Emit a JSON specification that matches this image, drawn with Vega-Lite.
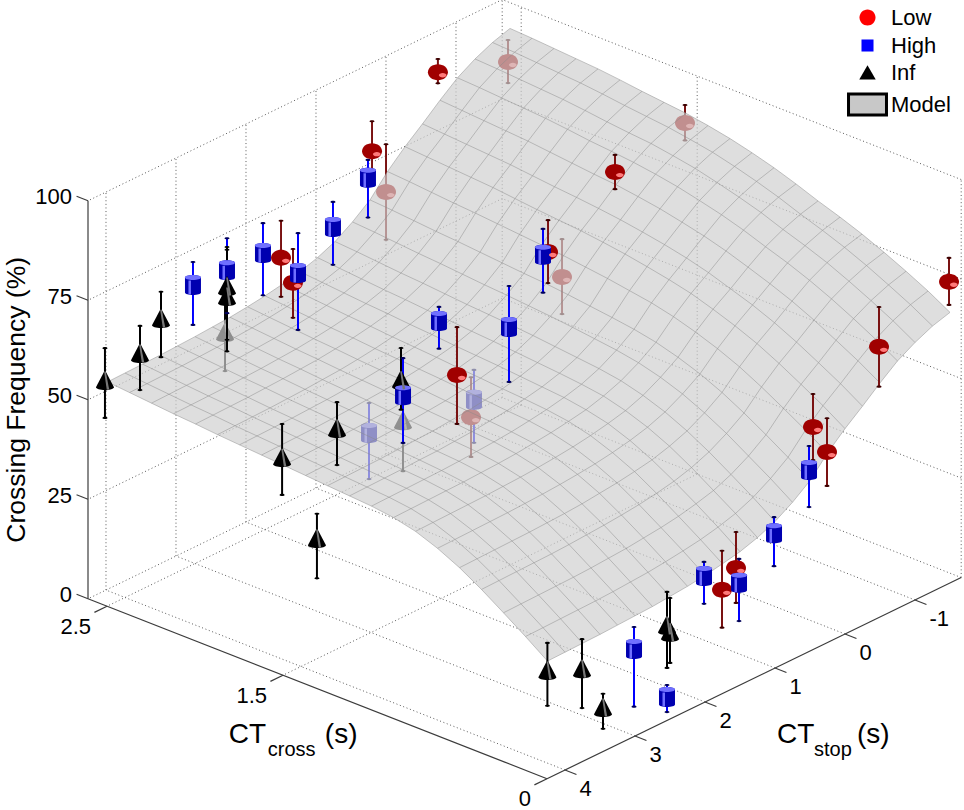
{
  "$schema": "https://vega.github.io/schema/vega-lite/v6.json",
  "width": 964,
  "height": 810,
  "padding": 0,
  "autosize": {"type": "none"},
  "background": "#ffffff",
  "config": {"view": {"stroke": null}, "font": "Liberation Sans"},
  "datasets": {
    "seg": [
      {"t":"d","c":1.5,"s":-1.66,"z":0,"c2":1.5,"s2":4.257,"z2":0},
      {"t":"d","c":2.5,"s":-1.66,"z":0,"c2":2.5,"s2":4.257,"z2":0},
      {"t":"d","c":2.608,"s":-1.66,"z":0,"c2":2.608,"s2":4.257,"z2":0},
      {"t":"d","c":0,"s":-1.66,"z":0,"c2":2.608,"s2":-1.66,"z2":0},
      {"t":"d","c":0,"s":-1,"z":0,"c2":2.608,"s2":-1,"z2":0},
      {"t":"d","c":0,"s":0,"z":0,"c2":2.608,"s2":0,"z2":0},
      {"t":"d","c":0,"s":1,"z":0,"c2":2.608,"s2":1,"z2":0},
      {"t":"d","c":0,"s":2,"z":0,"c2":2.608,"s2":2,"z2":0},
      {"t":"d","c":0,"s":3,"z":0,"c2":2.608,"s2":3,"z2":0},
      {"t":"d","c":0,"s":4,"z":0,"c2":2.608,"s2":4,"z2":0},
      {"t":"d","c":2.608,"s":-1.66,"z":0,"c2":2.608,"s2":-1.66,"z2":100},
      {"t":"d","c":2.608,"s":-1,"z":0,"c2":2.608,"s2":-1,"z2":100},
      {"t":"d","c":2.608,"s":0,"z":0,"c2":2.608,"s2":0,"z2":100},
      {"t":"d","c":2.608,"s":1,"z":0,"c2":2.608,"s2":1,"z2":100},
      {"t":"d","c":2.608,"s":2,"z":0,"c2":2.608,"s2":2,"z2":100},
      {"t":"d","c":2.608,"s":3,"z":0,"c2":2.608,"s2":3,"z2":100},
      {"t":"d","c":2.608,"s":4,"z":0,"c2":2.608,"s2":4,"z2":100},
      {"t":"d","c":2.608,"s":-1.66,"z":25,"c2":2.608,"s2":4.257,"z2":25},
      {"t":"d","c":2.608,"s":-1.66,"z":50,"c2":2.608,"s2":4.257,"z2":50},
      {"t":"d","c":2.608,"s":-1.66,"z":75,"c2":2.608,"s2":4.257,"z2":75},
      {"t":"d","c":2.608,"s":-1.66,"z":100,"c2":2.608,"s2":4.257,"z2":100},
      {"t":"d","c":0,"s":-1.66,"z":0,"c2":0,"s2":-1.66,"z2":100},
      {"t":"d","c":1.5,"s":-1.66,"z":0,"c2":1.5,"s2":-1.66,"z2":100},
      {"t":"d","c":2.5,"s":-1.66,"z":0,"c2":2.5,"s2":-1.66,"z2":100},
      {"t":"d","c":0,"s":-1.66,"z":25,"c2":2.608,"s2":-1.66,"z2":25},
      {"t":"d","c":0,"s":-1.66,"z":50,"c2":2.608,"s2":-1.66,"z2":50},
      {"t":"d","c":0,"s":-1.66,"z":75,"c2":2.608,"s2":-1.66,"z2":75},
      {"t":"d","c":0,"s":-1.66,"z":100,"c2":2.608,"s2":-1.66,"z2":100},
      {"t":"a","c":2.608,"s":4.257,"z":0,"c2":2.608,"s2":4.257,"z2":100},
      {"t":"a","c":2.608,"s":4.257,"z":0,"c2":0,"s2":4.257,"z2":0},
      {"t":"a","c":0,"s":4.257,"z":0,"c2":0,"s2":-1.66,"z2":0},
      {"t":"a","c":2.608,"s":4.257,"z":0,"c2":2.673,"s2":4.257,"z2":0},
      {"t":"a","c":2.608,"s":4.257,"z":25,"c2":2.673,"s2":4.257,"z2":25},
      {"t":"a","c":2.608,"s":4.257,"z":50,"c2":2.673,"s2":4.257,"z2":50},
      {"t":"a","c":2.608,"s":4.257,"z":75,"c2":2.673,"s2":4.257,"z2":75},
      {"t":"a","c":2.608,"s":4.257,"z":100,"c2":2.673,"s2":4.257,"z2":100},
      {"t":"a","c":0,"s":4.257,"z":0,"c2":0,"s2":4.437,"z2":0},
      {"t":"a","c":1.5,"s":4.257,"z":0,"c2":1.5,"s2":4.437,"z2":0},
      {"t":"a","c":2.5,"s":4.257,"z":0,"c2":2.5,"s2":4.437,"z2":0},
      {"t":"a","c":0,"s":-1,"z":0,"c2":-0.065,"s2":-1,"z2":0},
      {"t":"a","c":0,"s":0,"z":0,"c2":-0.065,"s2":0,"z2":0},
      {"t":"a","c":0,"s":1,"z":0,"c2":-0.065,"s2":1,"z2":0},
      {"t":"a","c":0,"s":2,"z":0,"c2":-0.065,"s2":2,"z2":0},
      {"t":"a","c":0,"s":3,"z":0,"c2":-0.065,"s2":3,"z2":0},
      {"t":"a","c":0,"s":4,"z":0,"c2":-0.065,"s2":4,"z2":0}
    ],
    "lab": [
      {"ax":"z","c":2.608,"s":4.257,"z":0,"lab":"0"},
      {"ax":"z","c":2.608,"s":4.257,"z":25,"lab":"25"},
      {"ax":"z","c":2.608,"s":4.257,"z":50,"lab":"50"},
      {"ax":"z","c":2.608,"s":4.257,"z":75,"lab":"75"},
      {"ax":"z","c":2.608,"s":4.257,"z":100,"lab":"100"},
      {"ax":"c","c":2.5,"s":4.257,"z":0,"lab":"2.5"},
      {"ax":"c","c":1.5,"s":4.257,"z":0,"lab":"1.5"},
      {"ax":"c","c":0,"s":4.257,"z":0,"lab":"0"},
      {"ax":"s","c":0,"s":4,"z":0,"lab":"4"},
      {"ax":"s","c":0,"s":3,"z":0,"lab":"3"},
      {"ax":"s","c":0,"s":2,"z":0,"lab":"2"},
      {"ax":"s","c":0,"s":1,"z":0,"lab":"1"},
      {"ax":"s","c":0,"s":0,"z":0,"lab":"0"},
      {"ax":"s","c":0,"s":-1,"z":0,"lab":"-1"},
      {"ax":"tz","c":2.608,"s":4.257,"z":50,"lab":"Crossing Frequency (%)"},
      {"ax":"tc","c":1.2,"s":4.257,"z":0,"lab":""},
      {"ax":"ts","c":0,"s":1.3,"z":0,"lab":""}
    ],
    "pts": [
      {"cond":"Low","u":false,"c":2.5,"s":-0.47,"z":93.8,"hi":97.1,"lo":91.0},
      {"cond":"Low","u":true,"c":2.4,"s":-1.22,"z":91.7,"hi":97.2,"lo":86.4},
      {"cond":"Low","u":true,"c":1.5,"s":-1.486,"z":89.7,"hi":94.2,"lo":85.3},
      {"cond":"Low","u":false,"c":1.5,"s":-0.486,"z":85.9,"hi":90.2,"lo":81.6},
      {"cond":"Low","u":false,"c":0,"s":-1.486,"z":75.8,"hi":81.8,"lo":70.0},
      {"cond":"Low","u":false,"c":0,"s":-0.486,"z":68.0,"hi":78.0,"lo":58.0},
      {"cond":"Low","u":false,"c":0,"s":0.457,"z":55.9,"hi":64.2,"lo":47.6},
      {"cond":"Low","u":false,"c":0,"s":0.257,"z":47.9,"hi":56.4,"lo":39.4},
      {"cond":"Low","u":false,"c":0,"s":1.757,"z":26.1,"hi":35.9,"lo":16.6},
      {"cond":"Low","u":false,"c":0,"s":1.557,"z":29.9,"hi":38.9,"lo":21.1},
      {"cond":"Low","u":false,"c":2.5,"s":0.471,"z":82.0,"hi":89.5,"lo":74.7},
      {"cond":"Low","u":true,"c":2.5,"s":0.271,"z":70.0,"hi":82.0,"lo":58.0},
      {"cond":"Low","u":false,"c":2.45,"s":1.726,"z":60.5,"hi":69.0,"lo":51.7},
      {"cond":"Low","u":false,"c":2.5,"s":1.771,"z":66.3,"hi":75.6,"lo":56.5},
      {"cond":"Low","u":false,"c":1.5,"s":0.471,"z":74.0,"hi":82.0,"lo":66.2},
      {"cond":"Low","u":true,"c":1.5,"s":0.271,"z":66.0,"hi":75.5,"lo":56.7},
      {"cond":"Low","u":false,"c":1.4,"s":2.023,"z":58.1,"hi":70.1,"lo":45.8},
      {"cond":"Low","u":true,"c":1.5,"s":1.571,"z":41.9,"hi":51.9,"lo":31.9},
      {"cond":"High","u":false,"c":2.5,"s":0.529,"z":75.8,"hi":80.3,"lo":65.8},
      {"cond":"High","u":false,"c":2.5,"s":1.029,"z":67.7,"hi":74.0,"lo":58.2},
      {"cond":"High","u":false,"c":2.4,"s":1.78,"z":64.3,"hi":74.3,"lo":50.0},
      {"cond":"High","u":false,"c":2.5,"s":2.029,"z":69.7,"hi":77.2,"lo":59.1},
      {"cond":"High","u":false,"c":2.5,"s":2.543,"z":69.8,"hi":77.8,"lo":59.0},
      {"cond":"High","u":false,"c":2.5,"s":3.029,"z":70.2,"hi":76.0,"lo":60.2},
      {"cond":"High","u":false,"c":1.5,"s":0.543,"z":73.9,"hi":80.4,"lo":64.4},
      {"cond":"High","u":false,"c":1.5,"s":2.029,"z":70.0,"hi":73.5,"lo":63.0},
      {"cond":"High","u":false,"c":1.4,"s":1.28,"z":63.8,"hi":74.1,"lo":50.0},
      {"cond":"High","u":true,"c":1.5,"s":1.529,"z":45.9,"hi":53.4,"lo":35.1},
      {"cond":"High","u":false,"c":1.4,"s":2.794,"z":59.6,"hi":68.9,"lo":47.6},
      {"cond":"High","u":true,"c":1.6,"s":2.777,"z":46.5,"hi":54.0,"lo":34.9},
      {"cond":"High","u":false,"c":0,"s":3.014,"z":22.0,"hi":27.5,"lo":7.5},
      {"cond":"High","u":false,"c":0,"s":2.543,"z":5.9,"hi":8.9,"lo":2.1},
      {"cond":"High","u":false,"c":0,"s":2.014,"z":31.8,"hi":35.3,"lo":24.8},
      {"cond":"High","u":false,"c":0,"s":1.514,"z":25.8,"hi":31.8,"lo":16.2},
      {"cond":"High","u":false,"c":0,"s":1.014,"z":34.0,"hi":38.0,"lo":25.7},
      {"cond":"High","u":false,"c":0,"s":0.514,"z":45.6,"hi":51.6,"lo":36.3},
      {"cond":"Inf","u":false,"c":2.52,"s":4.236,"z":56.3,"hi":64.3,"lo":46.8},
      {"cond":"Inf","u":false,"c":2.5,"s":3.786,"z":59.6,"hi":66.4,"lo":50.3},
      {"cond":"Inf","u":false,"c":2.5,"s":3.486,"z":65.8,"hi":72.4,"lo":56.0},
      {"cond":"Inf","u":false,"c":2.5,"s":2.543,"z":65.8,"hi":75.6,"lo":49.4},
      {"cond":"Inf","u":false,"c":2.5,"s":2.543,"z":63.3,"hi":74.9,"lo":52.3},
      {"cond":"Inf","u":true,"c":2.5,"s":2.571,"z":54.5,"hi":62.5,"lo":44.7},
      {"cond":"Inf","u":false,"c":1.4,"s":2.823,"z":63.7,"hi":71.7,"lo":56.2},
      {"cond":"Inf","u":true,"c":1.8,"s":1.789,"z":37.8,"hi":43.3,"lo":25.0},
      {"cond":"Inf","u":false,"c":1.4,"s":3.737,"z":59.4,"hi":65.9,"lo":50.1},
      {"cond":"Inf","u":false,"c":1.508,"s":4.25,"z":54.6,"hi":62.9,"lo":45.1},
      {"cond":"Inf","u":false,"c":1.31,"s":4.25,"z":37.7,"hi":43.8,"lo":27.6},
      {"cond":"Inf","u":false,"c":0.1,"s":4.0,"z":23.4,"hi":30.2,"lo":14.4},
      {"cond":"Inf","u":false,"c":0,"s":3.757,"z":23.5,"hi":30.8,"lo":13.5},
      {"cond":"Inf","u":false,"c":0,"s":3.457,"z":11.2,"hi":14.5,"lo":5.7},
      {"cond":"Inf","u":false,"c":0,"s":2.543,"z":24.0,"hi":32.3,"lo":13.2},
      {"cond":"Inf","u":false,"c":0,"s":2.5,"z":21.9,"hi":30.4,"lo":14.1}
    ],
    "surf": [
      {"c":0,"s":-1.5,"z":68},{"c":0.125,"s":-1.5,"z":71.2},{"c":0.25,"s":-1.5,"z":74},{"c":0.375,"s":-1.5,"z":76.6},{"c":0.5,"s":-1.5,"z":79},{"c":0.625,"s":-1.5,"z":81.1},{"c":0.75,"s":-1.5,"z":83},{"c":0.875,"s":-1.5,"z":85.1},{"c":1,"s":-1.5,"z":87},{"c":1.125,"s":-1.5,"z":88.6},{"c":1.25,"s":-1.5,"z":90},{"c":1.375,"s":-1.5,"z":91.1},{"c":1.5,"s":-1.5,"z":92},{"c":1.625,"s":-1.5,"z":92.6},{"c":1.75,"s":-1.5,"z":93.2},{"c":1.875,"s":-1.5,"z":93.9},{"c":2,"s":-1.5,"z":94.5},{"c":2.125,"s":-1.5,"z":94.9},{"c":2.25,"s":-1.5,"z":95.3},{"c":2.375,"s":-1.5,"z":95.7},{"c":2.5,"s":-1.5,"z":96},
      {"c":0,"s":-1.25,"z":66.7},{"c":0.125,"s":-1.25,"z":69.9},{"c":0.25,"s":-1.25,"z":72.7},{"c":0.375,"s":-1.25,"z":75.4},{"c":0.5,"s":-1.25,"z":77.8},{"c":0.625,"s":-1.25,"z":79.9},{"c":0.75,"s":-1.25,"z":81.8},{"c":0.875,"s":-1.25,"z":83.9},{"c":1,"s":-1.25,"z":85.7},{"c":1.125,"s":-1.25,"z":87.3},{"c":1.25,"s":-1.25,"z":88.7},{"c":1.375,"s":-1.25,"z":89.7},{"c":1.5,"s":-1.25,"z":90.6},{"c":1.625,"s":-1.25,"z":91.2},{"c":1.75,"s":-1.25,"z":91.8},{"c":1.875,"s":-1.25,"z":92.5},{"c":2,"s":-1.25,"z":93.1},{"c":2.125,"s":-1.25,"z":93.5},{"c":2.25,"s":-1.25,"z":93.9},{"c":2.375,"s":-1.25,"z":94.3},{"c":2.5,"s":-1.25,"z":94.6},
      {"c":0,"s":-1,"z":64.7},{"c":0.125,"s":-1,"z":68.0},{"c":0.25,"s":-1,"z":70.9},{"c":0.375,"s":-1,"z":73.6},{"c":0.5,"s":-1,"z":76.1},{"c":0.625,"s":-1,"z":78.2},{"c":0.75,"s":-1,"z":80.1},{"c":0.875,"s":-1,"z":82.2},{"c":1,"s":-1,"z":83.9},{"c":1.125,"s":-1,"z":85.4},{"c":1.25,"s":-1,"z":86.8},{"c":1.375,"s":-1,"z":87.8},{"c":1.5,"s":-1,"z":88.7},{"c":1.625,"s":-1,"z":89.2},{"c":1.75,"s":-1,"z":89.8},{"c":1.875,"s":-1,"z":90.5},{"c":2,"s":-1,"z":91.1},{"c":2.125,"s":-1,"z":91.5},{"c":2.25,"s":-1,"z":91.9},{"c":2.375,"s":-1,"z":92.3},{"c":2.5,"s":-1,"z":92.6},
      {"c":0,"s":-0.75,"z":62.2},{"c":0.125,"s":-0.75,"z":65.5},{"c":0.25,"s":-0.75,"z":68.5},{"c":0.375,"s":-0.75,"z":71.3},{"c":0.5,"s":-0.75,"z":73.8},{"c":0.625,"s":-0.75,"z":76.0},{"c":0.75,"s":-0.75,"z":77.9},{"c":0.875,"s":-0.75,"z":79.9},{"c":1,"s":-0.75,"z":81.6},{"c":1.125,"s":-0.75,"z":83.0},{"c":1.25,"s":-0.75,"z":84.3},{"c":1.375,"s":-0.75,"z":85.3},{"c":1.5,"s":-0.75,"z":86.1},{"c":1.625,"s":-0.75,"z":86.7},{"c":1.75,"s":-0.75,"z":87.2},{"c":1.875,"s":-0.75,"z":87.9},{"c":2,"s":-0.75,"z":88.5},{"c":2.125,"s":-0.75,"z":88.9},{"c":2.25,"s":-0.75,"z":89.3},{"c":2.375,"s":-0.75,"z":89.7},{"c":2.5,"s":-0.75,"z":90.0},
      {"c":0,"s":-0.5,"z":58.8},{"c":0.125,"s":-0.5,"z":62.2},{"c":0.25,"s":-0.5,"z":65.2},{"c":0.375,"s":-0.5,"z":68.1},{"c":0.5,"s":-0.5,"z":70.7},{"c":0.625,"s":-0.5,"z":72.9},{"c":0.75,"s":-0.5,"z":74.9},{"c":0.875,"s":-0.5,"z":76.8},{"c":1,"s":-0.5,"z":78.4},{"c":1.125,"s":-0.5,"z":79.7},{"c":1.25,"s":-0.5,"z":80.9},{"c":1.375,"s":-0.5,"z":81.8},{"c":1.5,"s":-0.5,"z":82.6},{"c":1.625,"s":-0.5,"z":83.1},{"c":1.75,"s":-0.5,"z":83.7},{"c":1.875,"s":-0.5,"z":84.3},{"c":2,"s":-0.5,"z":84.9},{"c":2.125,"s":-0.5,"z":85.3},{"c":2.25,"s":-0.5,"z":85.7},{"c":2.375,"s":-0.5,"z":86.1},{"c":2.5,"s":-0.5,"z":86.5},
      {"c":0,"s":-0.25,"z":55.1},{"c":0.125,"s":-0.25,"z":58.6},{"c":0.25,"s":-0.25,"z":61.7},{"c":0.375,"s":-0.25,"z":64.7},{"c":0.5,"s":-0.25,"z":67.4},{"c":0.625,"s":-0.25,"z":69.7},{"c":0.75,"s":-0.25,"z":71.6},{"c":0.875,"s":-0.25,"z":73.5},{"c":1,"s":-0.25,"z":75.0},{"c":1.125,"s":-0.25,"z":76.2},{"c":1.25,"s":-0.25,"z":77.2},{"c":1.375,"s":-0.25,"z":78.1},{"c":1.5,"s":-0.25,"z":78.8},{"c":1.625,"s":-0.25,"z":79.4},{"c":1.75,"s":-0.25,"z":79.9},{"c":1.875,"s":-0.25,"z":80.5},{"c":2,"s":-0.25,"z":81.1},{"c":2.125,"s":-0.25,"z":81.5},{"c":2.25,"s":-0.25,"z":81.9},{"c":2.375,"s":-0.25,"z":82.3},{"c":2.5,"s":-0.25,"z":82.7},
      {"c":0,"s":0,"z":51.6},{"c":0.125,"s":0,"z":55.2},{"c":0.25,"s":0,"z":58.4},{"c":0.375,"s":0,"z":61.5},{"c":0.5,"s":0,"z":64.3},{"c":0.625,"s":0,"z":66.6},{"c":0.75,"s":0,"z":68.6},{"c":0.875,"s":0,"z":70.4},{"c":1,"s":0,"z":71.7},{"c":1.125,"s":0,"z":72.8},{"c":1.25,"s":0,"z":73.8},{"c":1.375,"s":0,"z":74.6},{"c":1.5,"s":0,"z":75.3},{"c":1.625,"s":0,"z":75.8},{"c":1.75,"s":0,"z":76.3},{"c":1.875,"s":0,"z":76.9},{"c":2,"s":0,"z":77.5},{"c":2.125,"s":0,"z":77.9},{"c":2.25,"s":0,"z":78.3},{"c":2.375,"s":0,"z":78.7},{"c":2.5,"s":0,"z":79.1},
      {"c":0,"s":0.25,"z":47.6},{"c":0.125,"s":0.25,"z":51.2},{"c":0.25,"s":0.25,"z":54.5},{"c":0.375,"s":0.25,"z":57.7},{"c":0.5,"s":0.25,"z":60.6},{"c":0.625,"s":0.25,"z":63.0},{"c":0.75,"s":0.25,"z":65.0},{"c":0.875,"s":0.25,"z":66.7},{"c":1,"s":0.25,"z":68.0},{"c":1.125,"s":0.25,"z":68.9},{"c":1.25,"s":0.25,"z":69.8},{"c":1.375,"s":0.25,"z":70.5},{"c":1.5,"s":0.25,"z":71.2},{"c":1.625,"s":0.25,"z":71.7},{"c":1.75,"s":0.25,"z":72.2},{"c":1.875,"s":0.25,"z":72.7},{"c":2,"s":0.25,"z":73.2},{"c":2.125,"s":0.25,"z":73.6},{"c":2.25,"s":0.25,"z":74.1},{"c":2.375,"s":0.25,"z":74.6},{"c":2.5,"s":0.25,"z":75.0},
      {"c":0,"s":0.5,"z":42.8},{"c":0.125,"s":0.5,"z":46.5},{"c":0.25,"s":0.5,"z":50.0},{"c":0.375,"s":0.5,"z":53.3},{"c":0.5,"s":0.5,"z":56.3},{"c":0.625,"s":0.5,"z":58.8},{"c":0.75,"s":0.5,"z":60.8},{"c":0.875,"s":0.5,"z":62.4},{"c":1,"s":0.5,"z":63.5},{"c":1.125,"s":0.5,"z":64.3},{"c":1.25,"s":0.5,"z":65.0},{"c":1.375,"s":0.5,"z":65.7},{"c":1.5,"s":0.5,"z":66.3},{"c":1.625,"s":0.5,"z":66.7},{"c":1.75,"s":0.5,"z":67.2},{"c":1.875,"s":0.5,"z":67.7},{"c":2,"s":0.5,"z":68.2},{"c":2.125,"s":0.5,"z":68.6},{"c":2.25,"s":0.5,"z":69.1},{"c":2.375,"s":0.5,"z":69.6},{"c":2.5,"s":0.5,"z":70.0},
      {"c":0,"s":0.75,"z":39.5},{"c":0.125,"s":0.75,"z":43.3},{"c":0.25,"s":0.75,"z":46.8},{"c":0.375,"s":0.75,"z":50.3},{"c":0.5,"s":0.75,"z":53.3},{"c":0.625,"s":0.75,"z":55.9},{"c":0.75,"s":0.75,"z":57.9},{"c":0.875,"s":0.75,"z":59.4},{"c":1,"s":0.75,"z":60.4},{"c":1.125,"s":0.75,"z":61.1},{"c":1.25,"s":0.75,"z":61.8},{"c":1.375,"s":0.75,"z":62.4},{"c":1.5,"s":0.75,"z":62.9},{"c":1.625,"s":0.75,"z":63.4},{"c":1.75,"s":0.75,"z":63.8},{"c":1.875,"s":0.75,"z":64.3},{"c":2,"s":0.75,"z":64.8},{"c":2.125,"s":0.75,"z":65.2},{"c":2.25,"s":0.75,"z":65.7},{"c":2.375,"s":0.75,"z":66.2},{"c":2.5,"s":0.75,"z":66.6},
      {"c":0,"s":1,"z":36.8},{"c":0.125,"s":1,"z":40.7},{"c":0.25,"s":1,"z":44.3},{"c":0.375,"s":1,"z":47.8},{"c":0.5,"s":1,"z":50.9},{"c":0.625,"s":1,"z":53.5},{"c":0.75,"s":1,"z":55.5},{"c":0.875,"s":1,"z":57.0},{"c":1,"s":1,"z":57.9},{"c":1.125,"s":1,"z":58.5},{"c":1.25,"s":1,"z":59.1},{"c":1.375,"s":1,"z":59.7},{"c":1.5,"s":1,"z":60.2},{"c":1.625,"s":1,"z":60.6},{"c":1.75,"s":1,"z":61.0},{"c":1.875,"s":1,"z":61.5},{"c":2,"s":1,"z":62.0},{"c":2.125,"s":1,"z":62.4},{"c":2.25,"s":1,"z":62.9},{"c":2.375,"s":1,"z":63.4},{"c":2.5,"s":1,"z":63.8},
      {"c":0,"s":1.25,"z":34.9},{"c":0.125,"s":1.25,"z":38.8},{"c":0.25,"s":1.25,"z":42.4},{"c":0.375,"s":1.25,"z":46.0},{"c":0.5,"s":1.25,"z":49.2},{"c":0.625,"s":1.25,"z":51.8},{"c":0.75,"s":1.25,"z":53.8},{"c":0.875,"s":1.25,"z":55.3},{"c":1,"s":1.25,"z":56.1},{"c":1.125,"s":1.25,"z":56.7},{"c":1.25,"s":1.25,"z":57.2},{"c":1.375,"s":1.25,"z":57.7},{"c":1.5,"s":1.25,"z":58.2},{"c":1.625,"s":1.25,"z":58.6},{"c":1.75,"s":1.25,"z":59.1},{"c":1.875,"s":1.25,"z":59.5},{"c":2,"s":1.25,"z":60.0},{"c":2.125,"s":1.25,"z":60.4},{"c":2.25,"s":1.25,"z":60.9},{"c":2.375,"s":1.25,"z":61.4},{"c":2.5,"s":1.25,"z":61.9},
      {"c":0,"s":1.5,"z":33.5},{"c":0.125,"s":1.5,"z":37.5},{"c":0.25,"s":1.5,"z":41.2},{"c":0.375,"s":1.5,"z":44.7},{"c":0.5,"s":1.5,"z":47.9},{"c":0.625,"s":1.5,"z":50.6},{"c":0.75,"s":1.5,"z":52.7},{"c":0.875,"s":1.5,"z":54.0},{"c":1,"s":1.5,"z":54.9},{"c":1.125,"s":1.5,"z":55.4},{"c":1.25,"s":1.5,"z":55.9},{"c":1.375,"s":1.5,"z":56.4},{"c":1.5,"s":1.5,"z":56.8},{"c":1.625,"s":1.5,"z":57.2},{"c":1.75,"s":1.5,"z":57.7},{"c":1.875,"s":1.5,"z":58.1},{"c":2,"s":1.5,"z":58.6},{"c":2.125,"s":1.5,"z":59.0},{"c":2.25,"s":1.5,"z":59.5},{"c":2.375,"s":1.5,"z":60.0},{"c":2.5,"s":1.5,"z":60.5},
      {"c":0,"s":1.75,"z":32.6},{"c":0.125,"s":1.75,"z":36.5},{"c":0.25,"s":1.75,"z":40.2},{"c":0.375,"s":1.75,"z":43.8},{"c":0.5,"s":1.75,"z":47.1},{"c":0.625,"s":1.75,"z":49.7},{"c":0.75,"s":1.75,"z":51.8},{"c":0.875,"s":1.75,"z":53.2},{"c":1,"s":1.75,"z":54.0},{"c":1.125,"s":1.75,"z":54.5},{"c":1.25,"s":1.75,"z":54.9},{"c":1.375,"s":1.75,"z":55.4},{"c":1.5,"s":1.75,"z":55.8},{"c":1.625,"s":1.75,"z":56.3},{"c":1.75,"s":1.75,"z":56.7},{"c":1.875,"s":1.75,"z":57.1},{"c":2,"s":1.75,"z":57.6},{"c":2.125,"s":1.75,"z":58.0},{"c":2.25,"s":1.75,"z":58.5},{"c":2.375,"s":1.75,"z":59.0},{"c":2.5,"s":1.75,"z":59.5},
      {"c":0,"s":2,"z":31.8},{"c":0.125,"s":2,"z":35.8},{"c":0.25,"s":2,"z":39.5},{"c":0.375,"s":2,"z":43.1},{"c":0.5,"s":2,"z":46.4},{"c":0.625,"s":2,"z":49.0},{"c":0.75,"s":2,"z":51.1},{"c":0.875,"s":2,"z":52.5},{"c":1,"s":2,"z":53.3},{"c":1.125,"s":2,"z":53.7},{"c":1.25,"s":2,"z":54.2},{"c":1.375,"s":2,"z":54.6},{"c":1.5,"s":2,"z":55.1},{"c":1.625,"s":2,"z":55.5},{"c":1.75,"s":2,"z":55.9},{"c":1.875,"s":2,"z":56.3},{"c":2,"s":2,"z":56.8},{"c":2.125,"s":2,"z":57.2},{"c":2.25,"s":2,"z":57.7},{"c":2.375,"s":2,"z":58.2},{"c":2.5,"s":2,"z":58.7},
      {"c":0,"s":2.25,"z":31.2},{"c":0.125,"s":2.25,"z":35.2},{"c":0.25,"s":2.25,"z":39.0},{"c":0.375,"s":2.25,"z":42.6},{"c":0.5,"s":2.25,"z":45.9},{"c":0.625,"s":2.25,"z":48.5},{"c":0.75,"s":2.25,"z":50.6},{"c":0.875,"s":2.25,"z":52.0},{"c":1,"s":2.25,"z":52.7},{"c":1.125,"s":2.25,"z":53.2},{"c":1.25,"s":2.25,"z":53.6},{"c":1.375,"s":2.25,"z":54.0},{"c":1.5,"s":2.25,"z":54.5},{"c":1.625,"s":2.25,"z":54.9},{"c":1.75,"s":2.25,"z":55.3},{"c":1.875,"s":2.25,"z":55.7},{"c":2,"s":2.25,"z":56.2},{"c":2.125,"s":2.25,"z":56.6},{"c":2.25,"s":2.25,"z":57.1},{"c":2.375,"s":2.25,"z":57.6},{"c":2.5,"s":2.25,"z":58.1},
      {"c":0,"s":2.5,"z":30.8},{"c":0.125,"s":2.5,"z":34.7},{"c":0.25,"s":2.5,"z":38.5},{"c":0.375,"s":2.5,"z":42.2},{"c":0.5,"s":2.5,"z":45.4},{"c":0.625,"s":2.5,"z":48.1},{"c":0.75,"s":2.5,"z":50.2},{"c":0.875,"s":2.5,"z":51.5},{"c":1,"s":2.5,"z":52.3},{"c":1.125,"s":2.5,"z":52.7},{"c":1.25,"s":2.5,"z":53.2},{"c":1.375,"s":2.5,"z":53.6},{"c":1.5,"s":2.5,"z":54.0},{"c":1.625,"s":2.5,"z":54.4},{"c":1.75,"s":2.5,"z":54.8},{"c":1.875,"s":2.5,"z":55.2},{"c":2,"s":2.5,"z":55.7},{"c":2.125,"s":2.5,"z":56.1},{"c":2.25,"s":2.5,"z":56.6},{"c":2.375,"s":2.5,"z":57.1},{"c":2.5,"s":2.5,"z":57.6},
      {"c":0,"s":2.75,"z":30.4},{"c":0.125,"s":2.75,"z":34.4},{"c":0.25,"s":2.75,"z":38.2},{"c":0.375,"s":2.75,"z":41.9},{"c":0.5,"s":2.75,"z":45.1},{"c":0.625,"s":2.75,"z":47.8},{"c":0.75,"s":2.75,"z":49.9},{"c":0.875,"s":2.75,"z":51.2},{"c":1,"s":2.75,"z":52.0},{"c":1.125,"s":2.75,"z":52.4},{"c":1.25,"s":2.75,"z":52.8},{"c":1.375,"s":2.75,"z":53.2},{"c":1.5,"s":2.75,"z":53.6},{"c":1.625,"s":2.75,"z":54.1},{"c":1.75,"s":2.75,"z":54.5},{"c":1.875,"s":2.75,"z":54.9},{"c":2,"s":2.75,"z":55.4},{"c":2.125,"s":2.75,"z":55.8},{"c":2.25,"s":2.75,"z":56.3},{"c":2.375,"s":2.75,"z":56.8},{"c":2.5,"s":2.75,"z":57.3},
      {"c":0,"s":3,"z":30.2},{"c":0.125,"s":3,"z":34.1},{"c":0.25,"s":3,"z":37.9},{"c":0.375,"s":3,"z":41.6},{"c":0.5,"s":3,"z":44.9},{"c":0.625,"s":3,"z":47.6},{"c":0.75,"s":3,"z":49.7},{"c":0.875,"s":3,"z":51.0},{"c":1,"s":3,"z":51.7},{"c":1.125,"s":3,"z":52.1},{"c":1.25,"s":3,"z":52.6},{"c":1.375,"s":3,"z":53.0},{"c":1.5,"s":3,"z":53.4},{"c":1.625,"s":3,"z":53.8},{"c":1.75,"s":3,"z":54.2},{"c":1.875,"s":3,"z":54.6},{"c":2,"s":3,"z":55.1},{"c":2.125,"s":3,"z":55.5},{"c":2.25,"s":3,"z":56.0},{"c":2.375,"s":3,"z":56.5},{"c":2.5,"s":3,"z":57.0},
      {"c":0,"s":3.25,"z":30.0},{"c":0.125,"s":3.25,"z":33.9},{"c":0.25,"s":3.25,"z":37.7},{"c":0.375,"s":3.25,"z":41.4},{"c":0.5,"s":3.25,"z":44.7},{"c":0.625,"s":3.25,"z":47.4},{"c":0.75,"s":3.25,"z":49.5},{"c":0.875,"s":3.25,"z":50.8},{"c":1,"s":3.25,"z":51.5},{"c":1.125,"s":3.25,"z":52.0},{"c":1.25,"s":3.25,"z":52.4},{"c":1.375,"s":3.25,"z":52.8},{"c":1.5,"s":3.25,"z":53.2},{"c":1.625,"s":3.25,"z":53.6},{"c":1.75,"s":3.25,"z":54.0},{"c":1.875,"s":3.25,"z":54.4},{"c":2,"s":3.25,"z":54.9},{"c":2.125,"s":3.25,"z":55.3},{"c":2.25,"s":3.25,"z":55.8},{"c":2.375,"s":3.25,"z":56.3},{"c":2.5,"s":3.25,"z":56.8},
      {"c":0,"s":3.5,"z":29.8},{"c":0.125,"s":3.5,"z":33.8},{"c":0.25,"s":3.5,"z":37.6},{"c":0.375,"s":3.5,"z":41.3},{"c":0.5,"s":3.5,"z":44.6},{"c":0.625,"s":3.5,"z":47.3},{"c":0.75,"s":3.5,"z":49.4},{"c":0.875,"s":3.5,"z":50.7},{"c":1,"s":3.5,"z":51.4},{"c":1.125,"s":3.5,"z":51.8},{"c":1.25,"s":3.5,"z":52.2},{"c":1.375,"s":3.5,"z":52.6},{"c":1.5,"s":3.5,"z":53.0},{"c":1.625,"s":3.5,"z":53.4},{"c":1.75,"s":3.5,"z":53.8},{"c":1.875,"s":3.5,"z":54.2},{"c":2,"s":3.5,"z":54.7},{"c":2.125,"s":3.5,"z":55.1},{"c":2.25,"s":3.5,"z":55.6},{"c":2.375,"s":3.5,"z":56.1},{"c":2.5,"s":3.5,"z":56.6},
      {"c":0,"s":3.75,"z":29.7},{"c":0.125,"s":3.75,"z":33.7},{"c":0.25,"s":3.75,"z":37.5},{"c":0.375,"s":3.75,"z":41.2},{"c":0.5,"s":3.75,"z":44.5},{"c":0.625,"s":3.75,"z":47.2},{"c":0.75,"s":3.75,"z":49.3},{"c":0.875,"s":3.75,"z":50.6},{"c":1,"s":3.75,"z":51.3},{"c":1.125,"s":3.75,"z":51.7},{"c":1.25,"s":3.75,"z":52.1},{"c":1.375,"s":3.75,"z":52.5},{"c":1.5,"s":3.75,"z":52.9},{"c":1.625,"s":3.75,"z":53.3},{"c":1.75,"s":3.75,"z":53.7},{"c":1.875,"s":3.75,"z":54.1},{"c":2,"s":3.75,"z":54.6},{"c":2.125,"s":3.75,"z":55.0},{"c":2.25,"s":3.75,"z":55.5},{"c":2.375,"s":3.75,"z":56.0},{"c":2.5,"s":3.75,"z":56.5},
      {"c":0,"s":4,"z":29.6},{"c":0.125,"s":4,"z":33.6},{"c":0.25,"s":4,"z":37.4},{"c":0.375,"s":4,"z":41.1},{"c":0.5,"s":4,"z":44.4},{"c":0.625,"s":4,"z":47.1},{"c":0.75,"s":4,"z":49.2},{"c":0.875,"s":4,"z":50.5},{"c":1,"s":4,"z":51.2},{"c":1.125,"s":4,"z":51.6},{"c":1.25,"s":4,"z":52.0},{"c":1.375,"s":4,"z":52.4},{"c":1.5,"s":4,"z":52.8},{"c":1.625,"s":4,"z":53.2},{"c":1.75,"s":4,"z":53.6},{"c":1.875,"s":4,"z":54.0},{"c":2,"s":4,"z":54.5},{"c":2.125,"s":4,"z":54.9},{"c":2.25,"s":4,"z":55.4},{"c":2.375,"s":4,"z":55.9},{"c":2.5,"s":4,"z":56.4},
      {"c":0,"s":4.25,"z":29.5},{"c":0.125,"s":4.25,"z":33.5},{"c":0.25,"s":4.25,"z":37.3},{"c":0.375,"s":4.25,"z":41.0},{"c":0.5,"s":4.25,"z":44.3},{"c":0.625,"s":4.25,"z":47.0},{"c":0.75,"s":4.25,"z":49.1},{"c":0.875,"s":4.25,"z":50.4},{"c":1,"s":4.25,"z":51.1},{"c":1.125,"s":4.25,"z":51.5},{"c":1.25,"s":4.25,"z":51.9},{"c":1.375,"s":4.25,"z":52.3},{"c":1.5,"s":4.25,"z":52.7},{"c":1.625,"s":4.25,"z":53.1},{"c":1.75,"s":4.25,"z":53.5},{"c":1.875,"s":4.25,"z":53.9},{"c":2,"s":4.25,"z":54.4},{"c":2.125,"s":4.25,"z":54.8},{"c":2.25,"s":4.25,"z":55.3},{"c":2.375,"s":4.25,"z":55.8},{"c":2.5,"s":4.25,"z":56.3}
    ]
  },
  "encoding": {
    "x": {"field": "px", "type": "quantitative", "scale": {"domain": [0, 964], "nice": false, "zero": false}, "axis": null},
    "y": {"field": "py", "type": "quantitative", "scale": {"domain": [0, 810], "nice": false, "zero": false, "reverse": true}, "axis": null}
  },
  "layer": [
    {
      "data": {"name": "seg"},
      "transform": [
        {"filter": "datum.t === 'd'"},
        {"calculate": "845 - 176*datum.c - 70*datum.s", "as": "px"},
        {"calculate": "634 - 69*datum.c + 34*datum.s - 3.98*datum.z", "as": "py"},
        {"calculate": "845 - 176*datum.c2 - 70*datum.s2", "as": "px2"},
        {"calculate": "634 - 69*datum.c2 + 34*datum.s2 - 3.98*datum.z2", "as": "py2"}
      ],
      "mark": {"type": "rule", "color": "#5a5a5a", "strokeWidth": 1, "strokeDash": [1, 2.6]},
      "encoding": {"x2": {"field": "px2"}, "y2": {"field": "py2"}}
    },
    {
      "data": {"name": "pts"},
      "transform": [
        {"filter": "datum.u"},
        {"calculate": "845 - 176*datum.c - 70*datum.s", "as": "px"},
        {"calculate": "634 - 69*datum.c + 34*datum.s - 3.98*datum.hi", "as": "py"},
        {"calculate": "634 - 69*datum.c + 34*datum.s - 3.98*datum.lo", "as": "py2"}
      ],
      "mark": {"type": "rule", "strokeWidth": 2},
      "encoding": {
        "y2": {"field": "py2"},
        "color": {"condition": [{"test": "datum.cond === 'Low'", "value": "#7a1212"}, {"test": "datum.cond === 'High'", "value": "#0000ff"}], "value": "#000000"}
      }
    },
    {
      "data": {"name": "pts"},
      "transform": [
        {"filter": "datum.u"},
        {"fold": ["hi", "lo"], "as": ["end", "zz"]},
        {"calculate": "845 - 176*datum.c - 70*datum.s", "as": "px"},
        {"calculate": "634 - 69*datum.c + 34*datum.s - 3.98*datum.zz", "as": "py"}
      ],
      "mark": {"type": "point", "filled": true, "opacity": 1, "size": 25, "shape": "M-1,0A1,0.45 0 1 1 1,0A1,0.45 0 1 1 -1,0Z"},
      "encoding": {
        "color": {"condition": [{"test": "datum.cond === 'Low'", "value": "#3d0000"}, {"test": "datum.cond === 'High'", "value": "#00005a"}], "value": "#000000"}
      }
    },
    {
      "data": {"name": "pts"},
      "transform": [
        {"filter": "datum.u"},
        {"calculate": "845 - 176*datum.c - 70*datum.s", "as": "px"},
        {"calculate": "634 - 69*datum.c + 34*datum.s - 3.98*datum.z", "as": "py"}
      ],
      "mark": {"type": "point", "filled": true, "opacity": 1, "size": 400},
      "encoding": {
        "shape": {"condition": [{"test": "datum.cond === 'Low'", "value": "M-1,0A1,0.8 0 1 1 1,0A1,0.8 0 1 1 -1,0Z"}, {"test": "datum.cond === 'High'", "value": "M-0.8,-0.75A0.8,0.25 0 0 1 0.8,-0.75L0.8,0.75A0.8,0.25 0 0 1 -0.8,0.75Z"}], "value": "M0,-1L0.9,0.72A0.9,0.28 0 0 1 -0.9,0.72Z"},
        "color": {"condition": [{"test": "datum.cond === 'Low'", "value": "#a00000"}, {"test": "datum.cond === 'High'", "value": "#0000b0"}], "value": "#000000"}
      }
    },
    {
      "data": {"name": "pts"},
      "transform": [
        {"filter": "datum.u"},
        {"calculate": "845 - 176*datum.c - 70*datum.s", "as": "px"},
        {"calculate": "634 - 69*datum.c + 34*datum.s - 3.98*datum.z", "as": "py"}
      ],
      "mark": {"type": "point", "filled": true, "opacity": 1, "size": 400},
      "encoding": {
        "shape": {"condition": [{"test": "datum.cond === 'Low'", "value": "M0.1,0.3A0.38,0.22 0 1 1 0.86,0.3A0.38,0.22 0 1 1 0.1,0.3Z"}, {"test": "datum.cond === 'High'", "value": "M-0.8,-0.75A0.8,0.25 0 1 1 0.8,-0.75A0.8,0.25 0 1 1 -0.8,-0.75ZM-0.45,-0.45L-0.2,-0.45L-0.2,0.95L-0.45,0.95Z"}], "value": "M-0.08,-0.85L0.08,-0.85L0.42,0.92L0.18,0.96Z"},
        "color": {"condition": [{"test": "datum.cond === 'Low'", "value": "#ff7a7a"}, {"test": "datum.cond === 'High'", "value": "#7070ff"}], "value": "#777777"}
      }
    },
    {
      "data": {"name": "surf"},
      "transform": [
        {"filter": "datum.c == 0 || datum.c == 2.5 || datum.s == -1.5 || datum.s == 4.25"},
        {"calculate": "datum.s == 4.25 ? datum.c : datum.c == 2.5 ? 6.75 - datum.s : datum.s == -1.5 ? 10.75 - datum.c : 12.25 + datum.s", "as": "k"},
        {"calculate": "845 - 176*datum.c - 70*datum.s", "as": "px"},
        {"calculate": "634 - 69*datum.c + 34*datum.s - 3.98*datum.z", "as": "py"}
      ],
      "mark": {"type": "line", "fill": "#cfcfcf", "fillOpacity": 0.69, "strokeOpacity": 0, "interpolate": "linear-closed"},
      "encoding": {"order": {"field": "k", "type": "quantitative"}}
    },
    {
      "data": {"name": "surf"},
      "transform": [
        {"calculate": "845 - 176*datum.c - 70*datum.s", "as": "px"},
        {"calculate": "634 - 69*datum.c + 34*datum.s - 3.98*datum.z", "as": "py"}
      ],
      "mark": {"type": "line", "color": "#8a8a8a", "strokeWidth": 0.8, "opacity": 0.6},
      "encoding": {"detail": {"field": "c", "type": "nominal"}, "order": {"field": "s", "type": "quantitative"}}
    },
    {
      "data": {"name": "surf"},
      "transform": [
        {"calculate": "845 - 176*datum.c - 70*datum.s", "as": "px"},
        {"calculate": "634 - 69*datum.c + 34*datum.s - 3.98*datum.z", "as": "py"}
      ],
      "mark": {"type": "line", "color": "#8a8a8a", "strokeWidth": 0.8, "opacity": 0.6},
      "encoding": {"detail": {"field": "s", "type": "nominal"}, "order": {"field": "c", "type": "quantitative"}}
    },
    {
      "data": {"name": "pts"},
      "transform": [
        {"filter": "!datum.u"},
        {"calculate": "845 - 176*datum.c - 70*datum.s", "as": "px"},
        {"calculate": "634 - 69*datum.c + 34*datum.s - 3.98*datum.hi", "as": "py"},
        {"calculate": "634 - 69*datum.c + 34*datum.s - 3.98*datum.lo", "as": "py2"}
      ],
      "mark": {"type": "rule", "strokeWidth": 2},
      "encoding": {
        "y2": {"field": "py2"},
        "color": {"condition": [{"test": "datum.cond === 'Low'", "value": "#7a1212"}, {"test": "datum.cond === 'High'", "value": "#0000ff"}], "value": "#000000"}
      }
    },
    {
      "data": {"name": "pts"},
      "transform": [
        {"filter": "!datum.u"},
        {"fold": ["hi", "lo"], "as": ["end", "zz"]},
        {"calculate": "845 - 176*datum.c - 70*datum.s", "as": "px"},
        {"calculate": "634 - 69*datum.c + 34*datum.s - 3.98*datum.zz", "as": "py"}
      ],
      "mark": {"type": "point", "filled": true, "opacity": 1, "size": 25, "shape": "M-1,0A1,0.45 0 1 1 1,0A1,0.45 0 1 1 -1,0Z"},
      "encoding": {
        "color": {"condition": [{"test": "datum.cond === 'Low'", "value": "#3d0000"}, {"test": "datum.cond === 'High'", "value": "#00005a"}], "value": "#000000"}
      }
    },
    {
      "data": {"name": "pts"},
      "transform": [
        {"filter": "!datum.u"},
        {"calculate": "845 - 176*datum.c - 70*datum.s", "as": "px"},
        {"calculate": "634 - 69*datum.c + 34*datum.s - 3.98*datum.z", "as": "py"}
      ],
      "mark": {"type": "point", "filled": true, "opacity": 1, "size": 400},
      "encoding": {
        "shape": {"condition": [{"test": "datum.cond === 'Low'", "value": "M-1,0A1,0.8 0 1 1 1,0A1,0.8 0 1 1 -1,0Z"}, {"test": "datum.cond === 'High'", "value": "M-0.8,-0.75A0.8,0.25 0 0 1 0.8,-0.75L0.8,0.75A0.8,0.25 0 0 1 -0.8,0.75Z"}], "value": "M0,-1L0.9,0.72A0.9,0.28 0 0 1 -0.9,0.72Z"},
        "color": {"condition": [{"test": "datum.cond === 'Low'", "value": "#a00000"}, {"test": "datum.cond === 'High'", "value": "#0000b0"}], "value": "#000000"}
      }
    },
    {
      "data": {"name": "pts"},
      "transform": [
        {"filter": "!datum.u"},
        {"calculate": "845 - 176*datum.c - 70*datum.s", "as": "px"},
        {"calculate": "634 - 69*datum.c + 34*datum.s - 3.98*datum.z", "as": "py"}
      ],
      "mark": {"type": "point", "filled": true, "opacity": 1, "size": 400},
      "encoding": {
        "shape": {"condition": [{"test": "datum.cond === 'Low'", "value": "M0.1,0.3A0.38,0.22 0 1 1 0.86,0.3A0.38,0.22 0 1 1 0.1,0.3Z"}, {"test": "datum.cond === 'High'", "value": "M-0.8,-0.75A0.8,0.25 0 1 1 0.8,-0.75A0.8,0.25 0 1 1 -0.8,-0.75ZM-0.45,-0.45L-0.2,-0.45L-0.2,0.95L-0.45,0.95Z"}], "value": "M-0.08,-0.85L0.08,-0.85L0.42,0.92L0.18,0.96Z"},
        "color": {"condition": [{"test": "datum.cond === 'Low'", "value": "#ff7a7a"}, {"test": "datum.cond === 'High'", "value": "#7070ff"}], "value": "#777777"}
      }
    },
    {
      "data": {"name": "seg"},
      "transform": [
        {"filter": "datum.t === 'a'"},
        {"calculate": "845 - 176*datum.c - 70*datum.s", "as": "px"},
        {"calculate": "634 - 69*datum.c + 34*datum.s - 3.98*datum.z", "as": "py"},
        {"calculate": "845 - 176*datum.c2 - 70*datum.s2", "as": "px2"},
        {"calculate": "634 - 69*datum.c2 + 34*datum.s2 - 3.98*datum.z2", "as": "py2"}
      ],
      "mark": {"type": "rule", "color": "#3c3c3c", "strokeWidth": 1.2},
      "encoding": {"x2": {"field": "px2"}, "y2": {"field": "py2"}}
    },
    {
      "data": {"name": "lab"},
      "transform": [
        {"filter": "datum.ax === 'z'"},
        {"calculate": "845 - 176*datum.c - 70*datum.s", "as": "px"},
        {"calculate": "634 - 69*datum.c + 34*datum.s - 3.98*datum.z", "as": "py"}
      ],
      "mark": {"type": "text", "align": "right", "baseline": "middle", "dx": -16, "dy": -3.5, "fontSize": 22, "font": "Liberation Sans", "color": "#000000"},
      "encoding": {"text": {"field": "lab"}}
    },
    {
      "data": {"name": "lab"},
      "transform": [
        {"filter": "datum.ax === 'c'"},
        {"calculate": "845 - 176*datum.c - 70*datum.s", "as": "px"},
        {"calculate": "634 - 69*datum.c + 34*datum.s - 3.98*datum.z", "as": "py"}
      ],
      "mark": {"type": "text", "align": "right", "baseline": "middle", "dx": -16, "dy": 20.5, "fontSize": 22, "font": "Liberation Sans", "color": "#000000"},
      "encoding": {"text": {"field": "lab"}}
    },
    {
      "data": {"name": "lab"},
      "transform": [
        {"filter": "datum.ax === 's'"},
        {"calculate": "845 - 176*datum.c - 70*datum.s", "as": "px"},
        {"calculate": "634 - 69*datum.c + 34*datum.s - 3.98*datum.z", "as": "py"}
      ],
      "mark": {"type": "text", "align": "left", "baseline": "middle", "dx": 14.5, "dy": 19, "fontSize": 22, "font": "Liberation Sans", "color": "#000000"},
      "encoding": {"text": {"field": "lab"}}
    },
    {
      "data": {"name": "lab"},
      "transform": [
        {"filter": "datum.ax === 'tz'"},
        {"calculate": "845 - 176*datum.c - 70*datum.s", "as": "px"},
        {"calculate": "634 - 69*datum.c + 34*datum.s - 3.98*datum.z", "as": "py"}
      ],
      "mark": {"type": "text", "align": "center", "baseline": "alphabetic", "angle": 270, "dy": -63, "fontSize": 26.5, "font": "Liberation Sans", "color": "#000000"},
      "encoding": {"text": {"field": "lab"}}
    },
    {
      "data": {"name": "lab"},
      "transform": [
        {"filter": "datum.ax === 'tc'"},
        {"calculate": "845 - 176*datum.c - 70*datum.s", "as": "px"},
        {"calculate": "634 - 69*datum.c + 34*datum.s - 3.98*datum.z", "as": "py"}
      ],
      "mark": {"type": "text", "align": "left", "baseline": "alphabetic", "dx": -107, "dy": 47, "fontSize": 28, "font": "Liberation Sans", "color": "#000000"},
      "encoding": {"text": {"value": "CT"}}
    },
    {
      "data": {"name": "lab"},
      "transform": [
        {"filter": "datum.ax === 'tc'"},
        {"calculate": "845 - 176*datum.c - 70*datum.s", "as": "px"},
        {"calculate": "634 - 69*datum.c + 34*datum.s - 3.98*datum.z", "as": "py"}
      ],
      "mark": {"type": "text", "align": "left", "baseline": "alphabetic", "dx": -68, "dy": 60, "fontSize": 20, "font": "Liberation Sans", "color": "#000000"},
      "encoding": {"text": {"value": "cross"}}
    },
    {
      "data": {"name": "lab"},
      "transform": [
        {"filter": "datum.ax === 'tc'"},
        {"calculate": "845 - 176*datum.c - 70*datum.s", "as": "px"},
        {"calculate": "634 - 69*datum.c + 34*datum.s - 3.98*datum.z", "as": "py"}
      ],
      "mark": {"type": "text", "align": "left", "baseline": "alphabetic", "dx": -11, "dy": 47, "fontSize": 28, "font": "Liberation Sans", "color": "#000000"},
      "encoding": {"text": {"value": "(s)"}}
    },
    {
      "data": {"name": "lab"},
      "transform": [
        {"filter": "datum.ax === 'ts'"},
        {"calculate": "845 - 176*datum.c - 70*datum.s", "as": "px"},
        {"calculate": "634 - 69*datum.c + 34*datum.s - 3.98*datum.z", "as": "py"}
      ],
      "mark": {"type": "text", "align": "left", "baseline": "alphabetic", "dx": 23, "dy": 65, "fontSize": 28, "font": "Liberation Sans", "color": "#000000"},
      "encoding": {"text": {"value": "CT"}}
    },
    {
      "data": {"name": "lab"},
      "transform": [
        {"filter": "datum.ax === 'ts'"},
        {"calculate": "845 - 176*datum.c - 70*datum.s", "as": "px"},
        {"calculate": "634 - 69*datum.c + 34*datum.s - 3.98*datum.z", "as": "py"}
      ],
      "mark": {"type": "text", "align": "left", "baseline": "alphabetic", "dx": 60, "dy": 78, "fontSize": 20, "font": "Liberation Sans", "color": "#000000"},
      "encoding": {"text": {"value": "stop"}}
    },
    {
      "data": {"name": "lab"},
      "transform": [
        {"filter": "datum.ax === 'ts'"},
        {"calculate": "845 - 176*datum.c - 70*datum.s", "as": "px"},
        {"calculate": "634 - 69*datum.c + 34*datum.s - 3.98*datum.z", "as": "py"}
      ],
      "mark": {"type": "text", "align": "left", "baseline": "alphabetic", "dx": 103, "dy": 65, "fontSize": 28, "font": "Liberation Sans", "color": "#000000"},
      "encoding": {"text": {"value": "(s)"}}
    },
    {
      "data": {"name": "pts"},
      "transform": [
        {"filter": "!datum.u"},
        {"calculate": "845 - 176*datum.c - 70*datum.s", "as": "px"},
        {"calculate": "634 - 69*datum.c + 34*datum.s - 3.98*datum.z", "as": "py"}
      ],
      "mark": {"type": "point", "filled": true, "opacity": 0, "size": 445, "strokeWidth": 3},
      "encoding": {
        "shape": {"field": "cond", "type": "nominal", "scale": {"domain": ["Low", "High", "Inf", "Model"], "range": ["M-0.76,0A0.76,0.76 0 1 1 0.76,0A0.76,0.76 0 1 1 -0.76,0Z", "M-0.57,-0.57H0.57V0.57H-0.57Z", "M0,-0.68L0.78,0.66H-0.78Z", "M-1.8,-1H1.8V1H-1.8Z"]}, "legend": null},
        "stroke": {"field": "cond", "type": "nominal", "scale": {"domain": ["Low", "High", "Inf", "Model"], "range": ["transparent", "transparent", "transparent", "#000000"]}, "legend": null},
        "color": {
          "field": "cond", "type": "nominal",
          "scale": {"domain": ["Low", "High", "Inf", "Model"], "range": ["#ff0000", "#0000ff", "#000000", "#c8c8c8"]},
          "legend": {
            "title": null, "orient": "none", "legendX": 855, "legendY": 5, "padding": 0,
            "rowPadding": 1, "labelFontSize": 22, "labelFont": "Liberation Sans", "labelColor": "#000000",
            "labelOffset": 11, "symbolSize": 445, "symbolOpacity": 1, "symbolStrokeWidth": 3
          }
        }
      }
    }
  ]
}
